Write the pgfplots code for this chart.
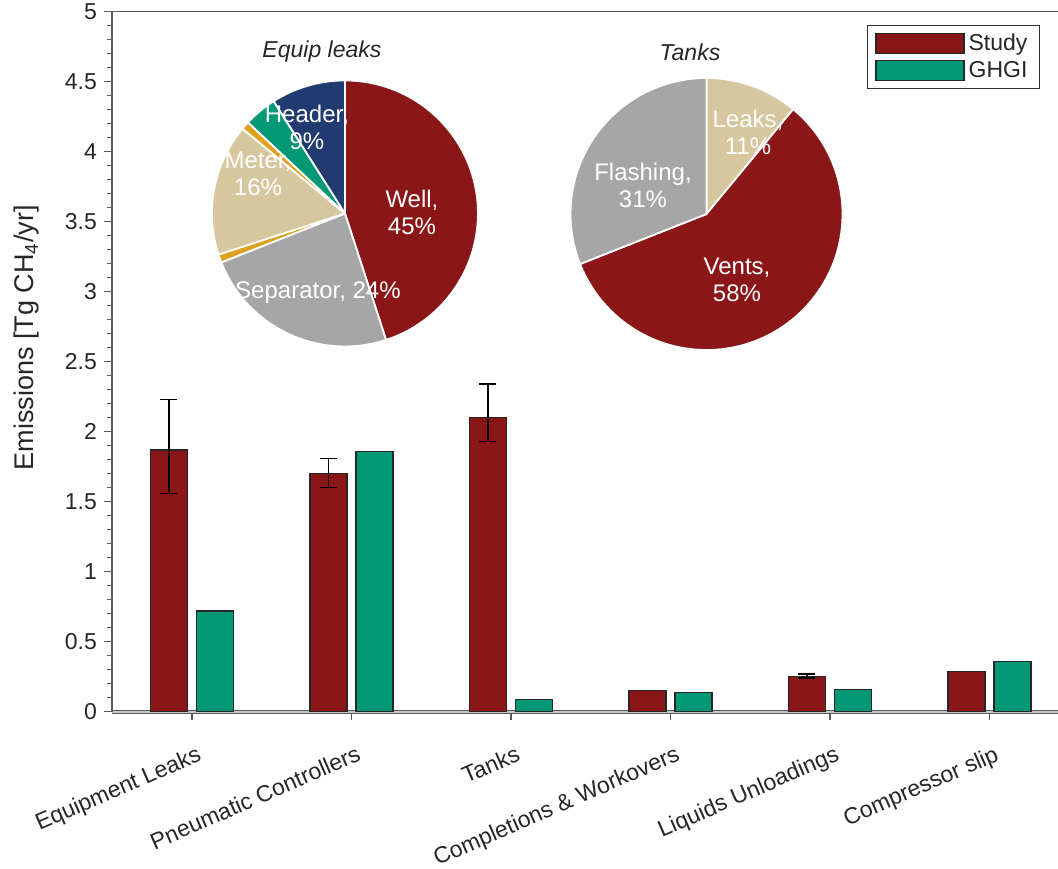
\documentclass[border=0pt]{standalone}
\usepackage{fontspec}
\setmainfont{Liberation Sans}
\usepackage{pgfplots}
\pgfplotsset{compat=1.18}
\usepackage{pgfplotstable}

\definecolor{studyred}{RGB}{139,22,24}
\definecolor{ghgigreen}{RGB}{0,152,117}
\definecolor{piegrey}{RGB}{166,166,166}
\definecolor{pietan}{RGB}{214,199,158}
\definecolor{pieorange}{RGB}{222,160,30}
\definecolor{pienavy}{RGB}{33,58,112}
\definecolor{axisgrey}{RGB}{90,90,90}

% Study estimate
\pgfplotstableread{
x  y
0  1.87
1  1.70
2  2.10
3  0.15
4  0.25
5  0.29
}\studydata

% Study uncertainty (asymmetric), only where it was estimated
\pgfplotstableread{
x  y     ep    em
0  1.87  0.36  0.31
1  1.70  0.11  0.10
2  2.10  0.24  0.17
4  0.25  0.02  0.01
}\studyerr

% Greenhouse gas inventory
\pgfplotstableread{
x  y
0  0.72
1  1.86
2  0.09
3  0.14
4  0.16
5  0.36
}\ghgidata

% Pie chart: centre, radius, list of percent/colour, drawn clockwise from the top
\newcommand{\drawpie}[3]{%
  \xdef\pieang{90}%
  \foreach \p/\c in {#3} {%
    \pgfmathsetmacro\pieend{\pieang-3.6*\p}%
    \filldraw[fill=\c, draw=white, line width=0.9pt, line join=round, shift={(#1)}]
      (0,0) -- (\pieang:#2) arc[start angle=\pieang, end angle=\pieend, radius=#2] -- cycle;
    \xdef\pieang{\pieend}%
  }%
}

\begin{document}
\begin{tikzpicture}
\begin{axis}[
  at={(0,0)}, anchor=south west,
  scale only axis,
  width=473pt, height=350pt,
  xmin=-0.5016, xmax=5.43,
  ymin=0, ymax=5,
  axis x line*=bottom, axis y line*=left,
  x axis line style={-, draw=axisgrey, double=black!22, double distance=1.1pt, line width=0.5pt},
  y axis line style={-, draw=axisgrey, line width=0.8pt},
  tick align=outside,
  major tick length=4pt, minor tick length=2.6pt,
  tick style={axisgrey, line width=0.7pt},
  minor tick style={axisgrey, line width=0.6pt},
  xtick={0,...,5},
  xticklabels={Equipment Leaks, Pneumatic Controllers, Tanks, Completions \& Workovers, Liquids Unloadings, Compressor slip},
  xticklabel style={rotate=23.5, anchor=north east, inner sep=1pt, yshift=-11pt, xshift=-2pt},
  ytick={0,0.5,...,5},
  minor y tick num=4,
  yticklabel style={/pgf/number format/assume math mode=true},
  ticklabel style={font=\fontsize{11.5}{13}\selectfont, text=black!85},
  ylabel={Emissions [Tg CH\textsubscript{4}/yr]},
  ylabel style={at={(axis description cs:-0.09,0.534)}, anchor=center, font=\fontsize{13.5}{15}\selectfont, text=black!85},
  ybar, bar width=18.5pt,
  legend style={at={(axis description cs:0.981,0.981)}, anchor=north east,
    draw=black!80, line width=0.6pt, inner xsep=4pt, inner ysep=2pt, row sep=0pt,
    font=\fontsize{11.5}{12}\selectfont, text=black!85,
    /tikz/every even column/.append style={column sep=2pt}},
  legend cell align=left,
]
\addplot[fill=studyred, draw=black!85, line width=0.6pt, bar shift=-11.5pt,
  legend image code/.code={\draw[fill=studyred, draw=black!85, line width=0.6pt] (0pt,-5pt) rectangle (44pt,5pt);}]
  table[x=x, y=y] {\studydata};
\addlegendentry{Study}
\addplot[fill=ghgigreen, draw=black!85, line width=0.6pt, bar shift=11.5pt,
  legend image code/.code={\draw[fill=ghgigreen, draw=black!85, line width=0.6pt] (0pt,-5pt) rectangle (44pt,5pt);}]
  table[x=x, y=y] {\ghgidata};
\addlegendentry{GHGI}
% error bars of the study estimate
\addplot[draw=none, fill=none, bar shift=-11.5pt, forget plot,
  error bars/.cd, y dir=both, y explicit,
  error bar style={black, line width=0.7pt, draw=black},
  error mark options={rotate=90, mark size=4.25pt, line width=0.7pt, black}]
  table[x=x, y=y, y error plus=ep, y error minus=em] {\studyerr};
\coordinate (pieA) at (axis cs:0.959,3.559);
\coordinate (pieB) at (axis cs:3.226,3.555);
\end{axis}

% top border of the plot frame
\draw[axisgrey, line width=0.8pt] (current axis.north west) -- (current axis.north east);

% Equipment leaks by component
\drawpie{pieA}{66.5pt}{45/studyred, 24/piegrey, 1/pieorange, 16/pietan, 1/pieorange, 4/ghgigreen, 9/pienavy}
% Tank emissions by source
\drawpie{pieB}{68pt}{11/pietan, 58/studyred, 31/piegrey}

\begin{scope}[every node/.style={text=white, align=center, font=\fontsize{12}{13.5}\selectfont}]
  \node at ([shift={(33.5pt,0.75pt)}]pieA) {Well,\\45\%};
  \node at ([shift={(-13.5pt,-39.75pt)}]pieA) {Separator, 24\%};
  \node at ([shift={(-43.5pt,20pt)}]pieA) {Meter,\\16\%};
  \node at ([shift={(-19pt,43.25pt)}]pieA) {Header,\\9\%};
  \node at ([shift={(20.75pt,41pt)}]pieB) {Leaks,\\11\%};
  \node at ([shift={(-31.75pt,14.5pt)}]pieB) {Flashing,\\31\%};
  \node at ([shift={(15.25pt,-33pt)}]pieB) {Vents,\\58\%};
\end{scope}
\node[font=\fontsize{11.5}{12}\selectfont\itshape, text=black!85] at ([shift={(-11.5pt,80.75pt)}]pieA) {Equip leaks};
\node[font=\fontsize{11.5}{12}\selectfont\itshape, text=black!85] at ([shift={(-8.25pt,81pt)}]pieB) {Tanks};

\pgfresetboundingbox
\path ([shift={(-56pt,-78.15pt)}]current axis.south west) rectangle ([shift={(0pt,5.85pt)}]current axis.north east);
\end{tikzpicture}
\end{document}
